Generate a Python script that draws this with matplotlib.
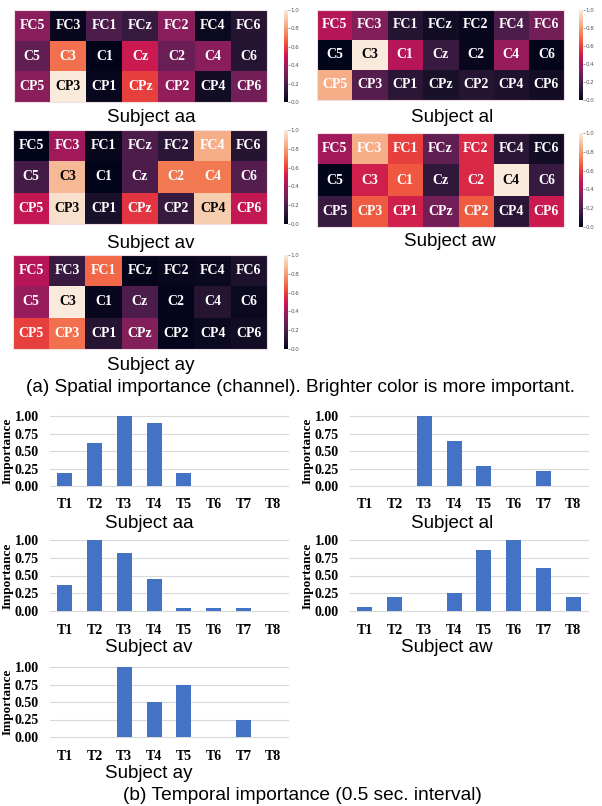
import numpy as np
import matplotlib
matplotlib.use("Agg")
import matplotlib.pyplot as plt
import seaborn as sns

W, H = 602, 806

channels = [["FC5", "FC3", "FC1", "FCz", "FC2", "FC4", "FC6"],
            ["C5", "C3", "C1", "Cz", "C2", "C4", "C6"],
            ["CP5", "CP3", "CP1", "CPz", "CP2", "CP4", "CP6"]]

# spatial importance per subject (rows FC, C, CP)
spatial_aa = [[0.35, 0.02, 0.20, 0.15, 0.35, 0.03, 0.10],
              [0.25, 0.70, 0.00, 0.50, 0.27, 0.35, 0.10],
              [0.35, 1.00, 0.02, 0.60, 0.37, 0.05, 0.30]]
spatial_al = [[0.45, 0.33, 0.10, 0.05, 0.02, 0.20, 0.30],
              [0.00, 1.00, 0.45, 0.15, 0.02, 0.38, 0.01],
              [0.84, 0.22, 0.12, 0.07, 0.10, 0.08, 0.05]]
spatial_av = [[0.00, 0.40, 0.02, 0.20, 0.12, 0.84, 0.10],
              [0.18, 0.87, 0.00, 0.20, 0.72, 0.72, 0.22],
              [0.48, 0.97, 0.07, 0.58, 0.15, 0.92, 0.48]]
spatial_aw = [[0.40, 0.84, 0.60, 0.25, 0.55, 0.12, 0.05],
              [0.00, 0.52, 0.65, 0.13, 0.55, 1.00, 0.15],
              [0.15, 0.66, 0.52, 0.30, 0.66, 0.12, 0.50]]
spatial_ay = [[0.45, 0.15, 0.68, 0.01, 0.02, 0.03, 0.08],
              [0.38, 1.00, 0.02, 0.20, 0.01, 0.10, 0.03],
              [0.60, 0.70, 0.10, 0.33, 0.01, 0.03, 0.05]]

time_labels = ["T1", "T2", "T3", "T4", "T5", "T6", "T7", "T8"]
temporal_aa = [0.19, 0.61, 1.00, 0.90, 0.19, 0.0, 0.0, 0.0]
temporal_al = [0.0, 0.0, 1.00, 0.64, 0.29, 0.0, 0.22, 0.0]
temporal_av = [0.36, 1.00, 0.81, 0.45, 0.04, 0.04, 0.04, 0.0]
temporal_aw = [0.06, 0.20, 0.0, 0.26, 0.86, 1.00, 0.60, 0.20]
temporal_ay = [0.0, 0.0, 1.00, 0.50, 0.75, 0.0, 0.25, 0.0]

subjects = ["aa", "al", "av", "aw", "ay"]


def px(x0, y0, x1, y1):
    return [x0 / W, 1 - y1 / H, (x1 - x0) / W, (y1 - y0) / H]


def ftext(x, y, s, **kw):
    fig.text(x / W, 1 - y / H, s, ha="center", va="center", **kw)


cmap = sns.color_palette("rocket", as_cmap=True)
serif = "Liberation Serif"
sans = "Liberation Sans"

fig = plt.figure(figsize=(W / 100, H / 100), dpi=100)

# (heatmap box, colorbar box, label position)
heat_layout = [
    ((14, 10, 267, 102), (284, 10, 288, 102), (151, 118)),
    ((317, 10, 564, 100), (579, 10, 583, 100), (452, 117)),
    ((13, 130, 267, 224), (284, 130, 288, 224), (151, 243)),
    ((317, 133, 564, 227), (579, 133, 583, 227), (450, 242)),
    ((13, 255, 267, 349), (284, 255, 288, 349), (151, 365)),
]
spatial = [spatial_aa, spatial_al, spatial_av, spatial_aw, spatial_ay]

for name, vals, (hb, cb, lp) in zip(subjects, spatial, heat_layout):
    ax = fig.add_axes(px(*hb))
    arr = np.array(vals)
    im = ax.imshow(arr, cmap=cmap, vmin=0, vmax=1, aspect="auto")
    for r in range(3):
        for c in range(7):
            col = "black" if arr[r, c] >= 0.86 else "white"
            ax.text(c, r, channels[r][c], ha="center", va="center",
                    color=col, fontsize=10, fontweight="bold", family=serif)
    ax.set_xticks([])
    ax.set_yticks([])
    for s in ax.spines.values():
        s.set_color("#f0e0e4")
        s.set_linewidth(0.8)
    cax = fig.add_axes(px(*cb))
    cbar = fig.colorbar(im, cax=cax, ticks=[0, 0.2, 0.4, 0.6, 0.8, 1.0])
    cbar.outline.set_visible(False)
    cax.tick_params(labelsize=4, length=1.5, width=0.4, pad=0.5,
                    colors="#555555")
    cax.set_yticklabels(["0.0", "0.2", "0.4", "0.6", "0.8", "1.0"])
    ftext(lp[0], lp[1], "Subject " + name, fontsize=13.5, family=sans)

ftext(301, 387, "(a) Spatial importance (channel). Brighter color is more important.",
      fontsize=13.7, family=sans)

bar_layout = [
    ((50, 416, 288, 486), (149, 523)),
    ((350, 416, 588, 486), (452, 523)),
    ((50, 540, 288, 611), (149, 647)),
    ((350, 540, 588, 611), (447, 647)),
    ((50, 667, 288, 737), (149, 773)),
]
temporal = [temporal_aa, temporal_al, temporal_av, temporal_aw, temporal_ay]

for name, vals, (bb, lp) in zip(subjects, temporal, bar_layout):
    ax = fig.add_axes(px(*bb))
    x = np.arange(len(time_labels))
    ax.bar(x, vals, width=0.5, color="#4472C4", zorder=2)
    ax.set_xlim(-0.5, len(time_labels) - 0.5)
    ax.set_ylim(0, 1.0)
    ax.set_yticks([0, 0.25, 0.5, 0.75, 1.0])
    ax.set_yticklabels(["0.00", "0.25", "0.50", "0.75", "1.00"])
    ax.set_xticks(x)
    ax.set_xticklabels(time_labels)
    ax.grid(axis="y", color="#d9d9d9", linewidth=0.8, zorder=0)
    for gl in ax.get_ygridlines():
        gl.set_clip_on(False)
    for s in ax.spines.values():
        s.set_visible(False)
    ax.tick_params(length=0, labelsize=10, pad=8)
    ax.tick_params(axis="x", pad=9)
    for lab in ax.get_xticklabels() + ax.get_yticklabels():
        lab.set_fontweight("bold")
        lab.set_family(serif)
    ax.set_ylabel("Importance", fontsize=9.5, fontweight="bold", family=serif,
                  labelpad=1)
    ftext(lp[0], lp[1], "Subject " + name, fontsize=13.5, family=sans)

ftext(302, 796, "(b) Temporal importance (0.5 sec. interval)",
      fontsize=13.8, family=sans)

fig.savefig("out.png", dpi=100)
